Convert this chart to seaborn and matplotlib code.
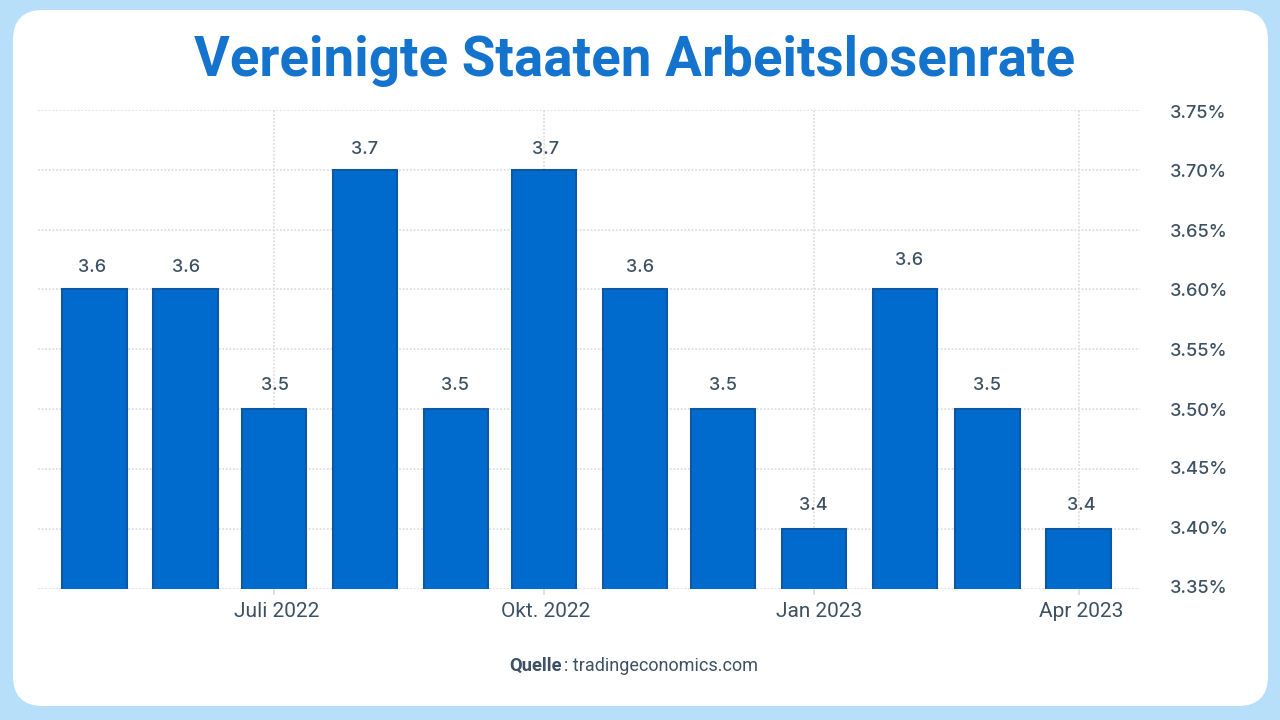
import matplotlib
matplotlib.use("Agg")
import matplotlib.pyplot as plt
import matplotlib.dates as mdates
from matplotlib.patches import FancyBboxPatch
from matplotlib.transforms import Affine2D
import seaborn as sns
from datetime import date

months = [date(2022,5,1),date(2022,6,1),date(2022,7,1),date(2022,8,1),date(2022,9,1),date(2022,10,1),
          date(2022,11,1),date(2022,12,1),date(2023,1,1),date(2023,2,1),date(2023,3,1),date(2023,4,1)]
rates = [3.6,3.6,3.5,3.7,3.5,3.7,3.6,3.5,3.4,3.6,3.5,3.4]
x_tick_dates = [date(2022,7,1),date(2022,10,1),date(2023,1,1),date(2023,4,1)]
x_tick_labels = ["Juli 2022","Okt. 2022","Jan 2023","Apr 2023"]
y_ticks = [3.35,3.40,3.45,3.50,3.55,3.60,3.65,3.70,3.75]
title = "Vereinigte Staaten Arbeitslosenrate"

W, H = 1280, 720
sns.set_theme(style="white")
cond = ["Roboto", "DejaVu Sans"]
plt.rcParams["font.family"] = ["Inter", "DejaVu Sans"]
TEXT = "#3d5163"
GRID = "#dedede"

fig = plt.figure(figsize=(W/100, H/100), dpi=100, facecolor="#b8dffa")
card = FancyBboxPatch((43, 40), 1195, 636, boxstyle="round,pad=30,rounding_size=30",
                      fc="white", ec="none", zorder=0)
card.set_transform(Affine2D().scale(1, -1).translate(0, H))
fig.add_artist(card)

L, R, T, B = 38, 1140, 110, 588.5
ax = fig.add_axes([L/W, 1-B/H, (R-L)/W, (B-T)/H], facecolor="none")
xs = mdates.date2num(months)
sns.barplot(x=xs, y=rates, native_scale=True, width=0.78, color="#006bcc", saturation=1,
            edgecolor="#0d57a3", linewidth=1.5, ax=ax, zorder=3)
px_day = (1078.5-94.5)/(xs[-1]-xs[0])
ax.set_xlim(xs[0]-(94.5-L)/px_day, xs[0]+(R-94.5)/px_day)
ax.set_ylim(3.35, 3.75)
ax.set_xlabel(""); ax.set_ylabel("")
for s in ax.spines.values():
    s.set_visible(False)
ax.yaxis.tick_right()
ax.set_yticks(y_ticks, [f"{v:.2f}%" for v in y_ticks], color=TEXT, fontsize=13.1, fontweight="medium")
ax.set_xticks(mdates.date2num(x_tick_dates), x_tick_labels, color=TEXT, fontsize=15, family=cond)
ax.tick_params(axis="y", length=0, pad=21.5, left=False, right=False)
ax.tick_params(axis="x", length=4.5, width=1.3, color=GRID, pad=5.5, bottom=True)
for t in ax.xaxis.get_major_ticks():
    t.tick1line.set_linestyle((0, (1, 1)))
ax.grid(True, color=GRID, linestyle=(0, (1, 1)), linewidth=1.3, zorder=0)
ax.set_axisbelow(True)

# small pixel nudges of labels, to follow the source layout
def nudge(artist, dx, dy):
    artist.set_transform(artist.get_transform() + Affine2D().translate(dx, dy))

for lab, dx in zip(ax.get_xticklabels(), [3, 2, 5, 3]):
    nudge(lab, dx, 0)
for lab, dy in zip(ax.get_yticklabels(), [2, 1, 1, 0, 0, 0, -1, -1, -1]):
    nudge(lab, 0, dy)

gap_by_value = {3.4: 19, 3.5: 19, 3.6: 17, 3.7: 16}
dx_list = [-2, 1, 1.5, 0, -1, 2, 5, -0.5, -0.5, 3.5, 0, 2.5]
for i, (b, r) in enumerate(zip(ax.patches, rates)):
    lift = gap_by_value[r] + (7 if i == 9 else 0)
    ax.annotate(f"{r:.1f}", (b.get_x()+b.get_width()/2, r), xytext=(dx_list[i], lift),
                textcoords="offset pixels", ha="center", va="baseline", color=TEXT,
                fontsize=13, fontweight="medium", zorder=5)

fig.text(635/W, 1-76/H, title, ha="center", va="baseline", color="#1473cc",
         fontsize=39.4, fontweight="bold", family=cond)
fig.text(509/W, 1-671/H, "Quelle", ha="left", va="baseline", color=TEXT, fontsize=13.2,
         fontweight="bold", family=cond)
fig.text(563.5/W, 1-671/H, ": tradingeconomics.com", ha="left", va="baseline", color=TEXT,
         fontsize=13, family=cond)
fig.savefig("out.png", dpi=100, facecolor=fig.get_facecolor())
